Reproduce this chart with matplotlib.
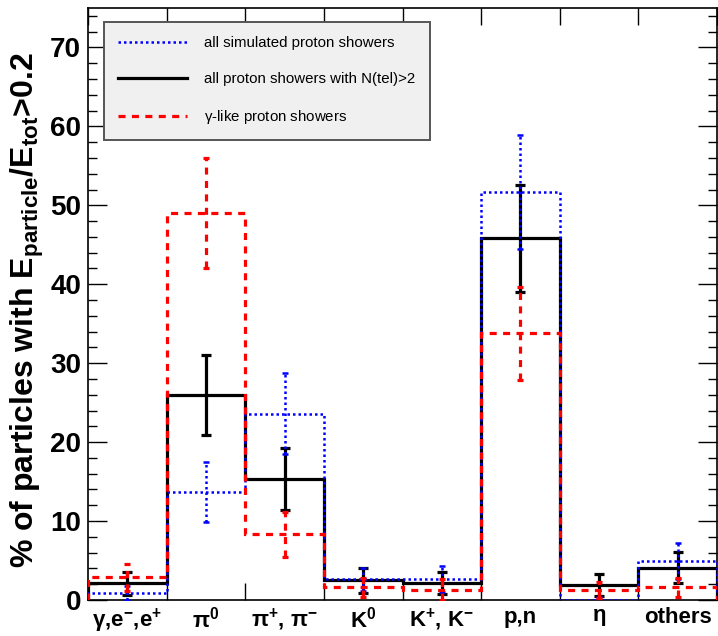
import numpy as np
import matplotlib
matplotlib.use("Agg")
import matplotlib.pyplot as plt
from matplotlib.lines import Line2D

plt.rcParams['font.family'] = ['Liberation Sans', 'DejaVu Sans']
plt.rcParams['mathtext.default'] = 'regular'

# particle categories (x axis)
categories = [r'$\gamma$,e$^{-}$,e$^{+}$', r'$\pi^{0}$', r'$\pi^{+}$, $\pi^{-}$',
              r'K$^{0}$', r'K$^{+}$, K$^{-}$', 'p,n', r'$\eta$', 'others']

# all simulated proton showers
all_sim = [0.9, 13.7, 23.6, 2.6, 2.65, 51.7, 0.05, 4.9]
all_sim_err = [0.9, 3.8, 5.1, 1.5, 1.6, 7.2, 0.3, 2.3]
# all proton showers with N(tel)>2
ntel = [2.1, 26.0, 15.3, 2.5, 2.2, 45.8, 1.9, 4.1]
ntel_err = [1.5, 5.1, 3.9, 1.6, 1.4, 6.8, 1.4, 2.0]
# gamma-like proton showers
glike = [2.9, 49.0, 8.3, 1.6, 1.3, 33.8, 1.3, 1.6]
glike_err = [1.7, 7.0, 2.8, 1.2, 1.3, 5.9, 1.0, 1.2]

labels = ['all simulated proton showers',
          'all proton showers with N(tel)>2',
          r'$\gamma$-like proton showers']

edges = np.arange(len(categories) + 1)
centers = edges[:-1] + 0.5

blue_ls = (0, (1, 1.2))
red_ls = (0, (2.2, 2))

fig = plt.figure(figsize=(7.18, 6.36), dpi=100)
ax = fig.add_axes([88/718, 36/636, 629/718, 592/636])

# black solid
ax.stairs(ntel, edges, baseline=0, color='black', lw=2.3, zorder=3)
ax.errorbar(centers, ntel, yerr=ntel_err, fmt='none', ecolor='black',
            elinewidth=2.3, capsize=3.5, capthick=2.3, zorder=3)
# blue dotted
ax.stairs(all_sim, edges, baseline=0, color='#0000ff', lw=1.8,
          linestyle=blue_ls, zorder=4)
eb = ax.errorbar(centers, all_sim, yerr=all_sim_err, fmt='none', ecolor='#0000ff',
                 elinewidth=1.8, capsize=2, capthick=1.8, zorder=4)
eb[2][0].set_linestyle(blue_ls)
# red dashed
ax.stairs(glike, edges, baseline=0, color='#ff0000', lw=2.3,
          linestyle=red_ls, zorder=5)
eb = ax.errorbar(centers, glike, yerr=glike_err, fmt='none', ecolor='#ff0000',
                 elinewidth=2.3, capsize=2, capthick=2.3, zorder=5)
eb[2][0].set_linestyle(red_ls)

ax.set_xlim(0, 8)
ax.set_ylim(0, 75)

ax.set_xticks(edges)
ax.set_xticklabels([])
ax.set_xticks(centers, minor=True)
ax.set_xticklabels(categories, minor=True, fontsize=16, fontweight='bold')
ax.tick_params(axis='x', which='major', direction='in', length=12, width=1,
               top=True, bottom=True)
ax.tick_params(axis='x', which='minor', length=0, pad=5)

ax.set_yticks(np.arange(0, 71, 10))
ax.set_yticks(np.arange(0, 75, 2), minor=True)
ax.tick_params(axis='y', which='major', direction='in', length=14, width=1,
               left=True, right=True, labelsize=20, pad=5)
ax.tick_params(axis='y', which='minor', direction='in', length=6.5, width=1,
               left=True, right=True)
for t in ax.get_yticklabels():
    t.set_fontweight('bold')

ax.set_ylabel(r'% of particles with E$_{particle}$/E$_{tot}$>0.2',
              fontsize=23, fontweight='bold')
ax.yaxis.set_label_coords(-0.066, 0.49)

for s in ax.spines.values():
    s.set_linewidth(1.2)

handles = [Line2D([], [], color='#0000ff', lw=1.8, linestyle=blue_ls),
           Line2D([], [], color='black', lw=2.3),
           Line2D([], [], color='#ff0000', lw=2.3, linestyle=red_ls)]
leg = ax.legend(handles, labels, loc='upper left', bbox_to_anchor=(16/629, 578/592),
                fontsize=10.8, frameon=True, fancybox=False, shadow=False,
                handlelength=4.6, handletextpad=1.15, labelspacing=1.45,
                borderpad=0.95, borderaxespad=0)
leg.get_frame().set_facecolor('#f0f0f0')
leg.get_frame().set_edgecolor('#555555')
leg.get_frame().set_linewidth(1.4)
leg.get_frame().set_alpha(1)

fig.savefig('out.png', dpi=100)
